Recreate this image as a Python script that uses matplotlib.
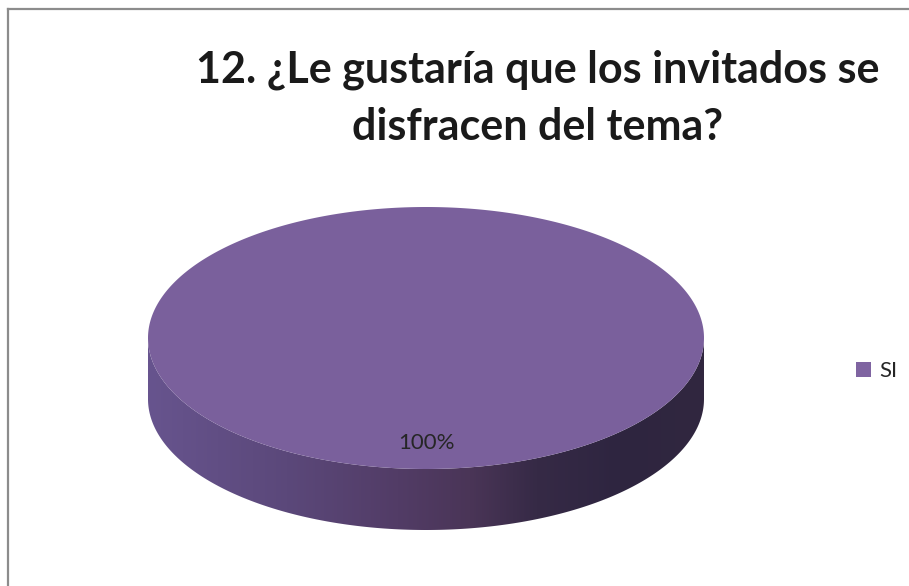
import numpy as np
import matplotlib
matplotlib.use("Agg")
import matplotlib.pyplot as plt
from matplotlib.colors import LinearSegmentedColormap
from matplotlib.lines import Line2D
from matplotlib.patches import Patch, Polygon

# data
title_lines = ["12. ¿Le gustaría que los invitados se", "disfracen del tema?"]
labels = ["SI"]
values = [100]

face_colors = ["#7a609c"]
legend_colors = ["#7f64a1"]
side_stops = [(0.00, "#67548e"), (0.25, "#5b487a"), (0.45, "#523c66"),
              (0.58, "#4a3557"), (0.70, "#362a46"), (0.85, "#2e2540"),
              (1.00, "#31273f")]

W, H = 909, 586
fig = plt.figure(figsize=(W / 100, H / 100), dpi=100)
ax = fig.add_axes([0, 0, 1, 1])

# pie geometry (pixels, y down)
cx, cy = 426, 338
rx, ry = 278, 131
depth = 61


def ell(a, r=1.0, dy=0.0):
    # angle a in degrees, clockwise from 12 o'clock
    t = np.radians(a)
    return cx + r * rx * np.sin(t), cy - r * ry * np.cos(t) + dy


side_cmap = LinearSegmentedColormap.from_list("side", side_stops)
grad = np.linspace(0, 1, 512).reshape(1, -1)

total = sum(values)
start = 0.0
for val, col in zip(values, face_colors):
    span = 360.0 * val / total
    end = start + span

    # front wall: only the part of the arc facing the viewer (90..270 deg)
    lo, hi = max(start, 90.0), min(end, 270.0)
    if hi > lo:
        a = np.linspace(lo, hi, 300)
        x1, y1 = ell(a)
        x2, y2 = ell(a[::-1], dy=depth)
        wall = Polygon(np.column_stack([np.r_[x1, x2], np.r_[y1, y2]]),
                       closed=True, facecolor="none", edgecolor="none")
        ax.add_patch(wall)
        img = ax.imshow(grad, cmap=side_cmap, aspect="auto",
                        extent=(cx - rx, cx + rx, cy + ry + depth, cy - ry),
                        interpolation="bilinear", zorder=1)
        img.set_clip_path(wall)

    # top face
    a = np.linspace(start, end, 400)
    x, y = ell(a)
    if span < 360:
        x, y = np.r_[cx, x], np.r_[cy, y]
    ax.fill(x, y, color=col, lw=0, zorder=2)

    # percentage label
    mid = start + span / 2
    lx, ly = ell(mid, r=0.8)
    ax.text(lx, ly, f"{val / total:.0%}", ha="center", va="center",
            fontsize=16, family="Lato", color="#262626", zorder=3)
    start = end

ax.set_xlim(0, W)
ax.set_ylim(H, 0)
ax.axis("off")

# title
for i, line in enumerate(title_lines):
    fig.text(538 / W, 1 - (82 + 58 * i) / H, line, ha="center", va="baseline",
             fontsize=31, fontweight="bold", family="Lato", color="#1a1a1a")

# legend
handles = [Patch(facecolor=c, edgecolor="none") for c in legend_colors]
fig.legend(handles, labels, loc="center left",
           bbox_to_anchor=(856 / W, 1 - 371 / H), frameon=False,
           prop={"family": "Lato", "size": 16},
           handlelength=0.68, handleheight=0.68, handletextpad=0.35,
           borderpad=0, borderaxespad=0, labelcolor="#262626")

# chart area border (top and left edges visible)
fig.add_artist(Line2D([8 / W, 8 / W], [0, 1 - 9 / H], transform=fig.transFigure,
                      color="#8c8c8c", lw=1.6))
fig.add_artist(Line2D([8 / W, 1], [1 - 9 / H, 1 - 9 / H], transform=fig.transFigure,
                      color="#8c8c8c", lw=1.6))

fig.savefig("out.png", dpi=100)
